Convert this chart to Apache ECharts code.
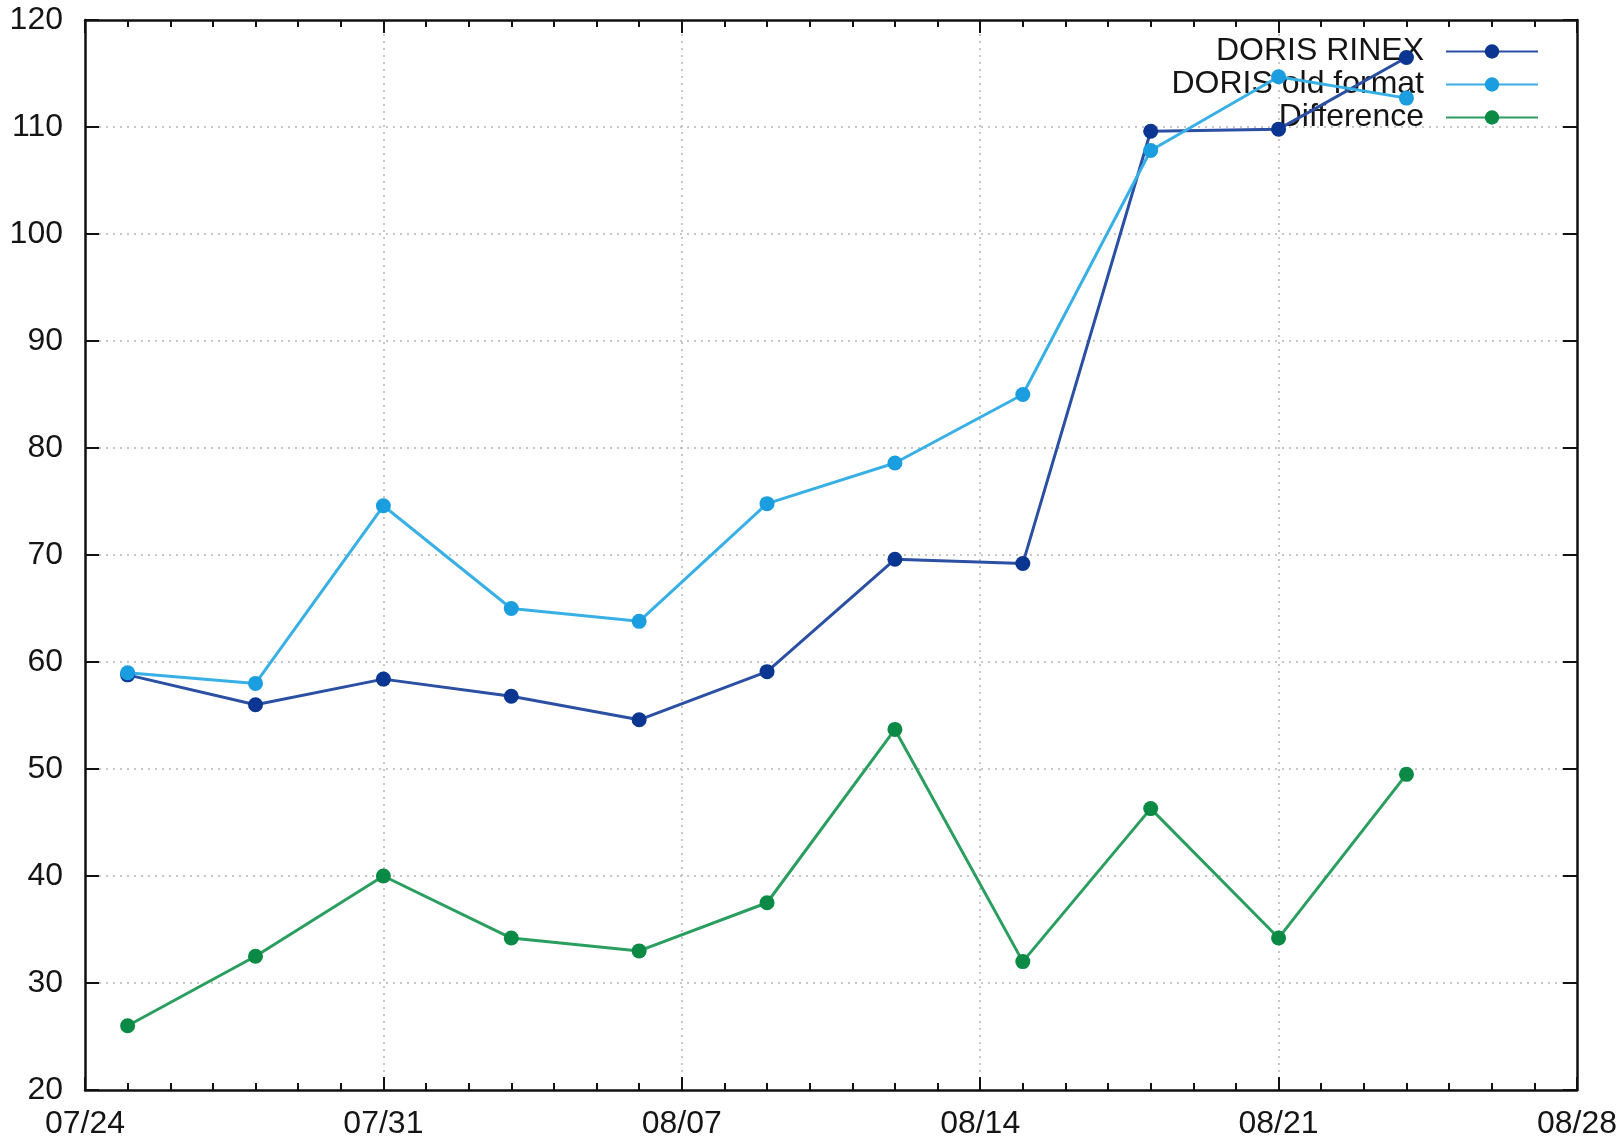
<!DOCTYPE html>
<html>
<head>
<meta charset="utf-8">
<script src="https://cdn.jsdelivr.net/npm/echarts@6/dist/echarts.min.js"></script>
<style>html,body{margin:0;padding:0;background:#fff}#c{width:1620px;height:1140px}</style>
</head>
<body>
<div id="c"></div>
<script>
const startDate = '07/24';
const dates = ['07/25','07/28','07/31','08/03','08/06','08/09','08/12','08/15','08/18','08/21','08/24'];
const dorisRinex = [58.8, 56.0, 58.4, 56.8, 54.6, 59.1, 69.6, 69.2, 109.6, 109.8, 116.5];
const dorisOld = [59.0, 58.0, 74.6, 65.0, 63.8, 74.8, 78.6, 85.0, 107.8, 114.7, 112.7];
const difference = [26.0, 32.5, 40.0, 34.2, 33.0, 37.5, 53.7, 32.0, 46.3, 34.2, 49.5];
const xTickLabels = ['07/24','07/31','08/07','08/14','08/21','08/28'];
const yTicks = [20,30,40,50,60,70,80,90,100,110,120];

function dayOffset(md) {
  const [m1, d1] = startDate.split('/').map(Number);
  const [m2, d2] = md.split('/').map(Number);
  const a = Date.UTC(2000, m1 - 1, d1), b = Date.UTC(2000, m2 - 1, d2);
  return Math.round((b - a) / 86400000);
}
const pairs = arr => dates.map((d, i) => [dayOffset(d), arr[i]]);

const FONT = 'Liberation Sans';
const TXT = '#151515';
const FS = 32;
const gridLine = {show: true, showMinLine: false, showMaxLine: false,
  lineStyle: {color: '#b5b5b5', width: 1.5, type: [2, 5]}};
const axLine = {show: true, onZero: false, lineStyle: {color: '#111', width: 2.5}};
const majTick = len => ({show: true, inside: true, length: len, lineStyle: {color: '#111', width: 2}});
const minTick = {show: true, splitNumber: 7, length: 7, lineStyle: {color: '#111', width: 2}};

const chart = echarts.init(document.getElementById('c'));
chart.setOption({
  backgroundColor: '#fff',
  animation: false,
  grid: {left: 85, right: 42, top: 20, bottom: 50, show: false},
  legend: {
    orient: 'vertical', align: 'right', right: 81, top: 35, padding: 0, z: 1,
    itemWidth: 92, itemHeight: 18, itemGap: 0,
    textStyle: {fontFamily: FONT, fontSize: FS, color: TXT, lineHeight: 33, padding: [0, 17, 0, 0]},
    data: ['DORIS RINEX', 'DORIS old format', 'Difference']
  },
  xAxis: [{
    type: 'value', min: 0, max: dayOffset('08/28'), interval: 7,
    axisLine: axLine, axisTick: majTick(13), minorTick: minTick,
    axisLabel: {fontFamily: FONT, fontSize: FS, color: TXT, margin: 18,
      formatter: v => xTickLabels[Math.round(v / 7)] || ''},
    splitLine: gridLine
  }, {
    type: 'value', position: 'top', min: 0, max: dayOffset('08/28'), interval: 7,
    axisLine: axLine, axisTick: majTick(13), minorTick: minTick,
    axisLabel: {show: false}, splitLine: {show: false}
  }],
  yAxis: [{
    type: 'value', min: yTicks[0], max: yTicks[yTicks.length - 1], interval: 10,
    axisLine: axLine, axisTick: majTick(14),
    axisLabel: {fontFamily: FONT, fontSize: FS, color: TXT, margin: 22},
    splitLine: gridLine
  }, {
    type: 'value', position: 'right', min: yTicks[0], max: yTicks[yTicks.length - 1], interval: 10,
    axisLine: axLine, axisTick: majTick(14),
    axisLabel: {show: false}, splitLine: {show: false}
  }],
  series: [{
    name: 'DORIS RINEX', type: 'line', data: pairs(dorisRinex),
    symbol: 'circle', symbolSize: 15,
    itemStyle: {color: '#0a3591'}, lineStyle: {color: '#2b4fa3', width: 3}
  }, {
    name: 'DORIS old format', type: 'line', data: pairs(dorisOld),
    symbol: 'circle', symbolSize: 15,
    itemStyle: {color: '#1a9ee0'}, lineStyle: {color: '#38b0e6', width: 3}
  }, {
    name: 'Difference', type: 'line', data: pairs(difference),
    symbol: 'circle', symbolSize: 15,
    itemStyle: {color: '#0b8a45'}, lineStyle: {color: '#2a9e5e', width: 3}
  }]
});
</script>
</body>
</html>
